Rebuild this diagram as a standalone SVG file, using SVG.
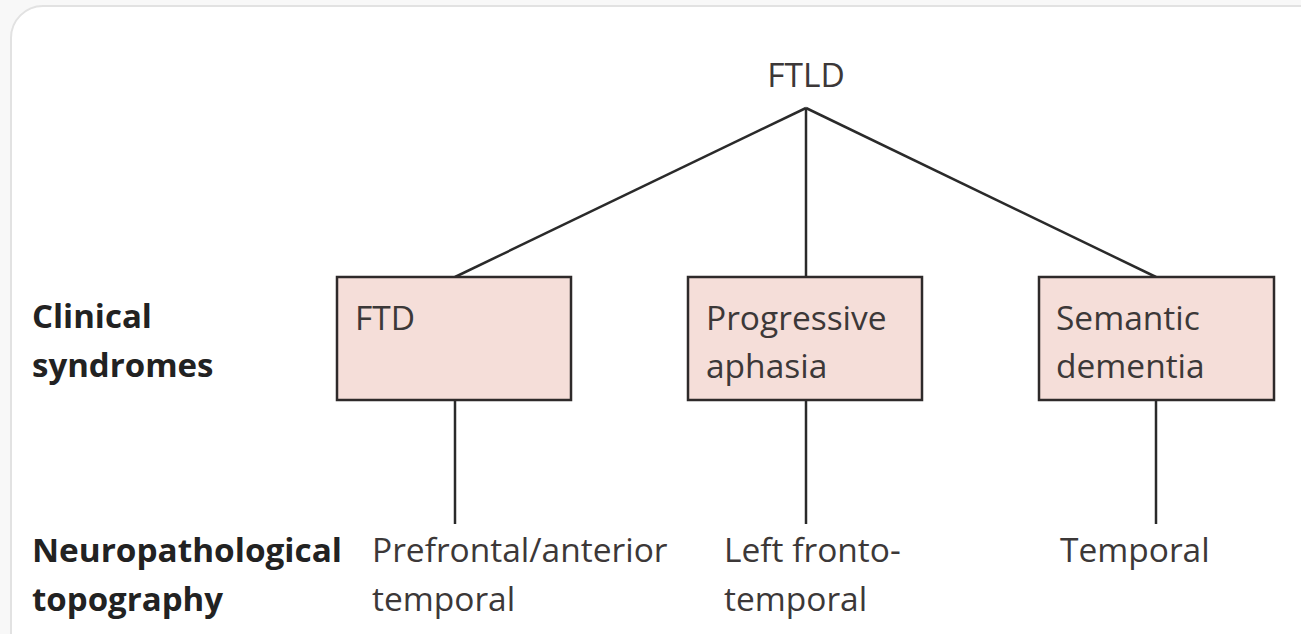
<svg xmlns="http://www.w3.org/2000/svg" width="1301" height="634" viewBox="0 0 1301 634">
<style>
.t{font-family:"Open Sans","Noto Sans",sans-serif;font-size:33.5px;fill:#3c3838}
.h{font-family:"Open Sans","Noto Sans",sans-serif;font-size:33px;font-weight:bold;fill:#222}
.box{fill:#f5ded9;stroke:#2e2a2a;stroke-width:2.5}
.ln{stroke:#2a2a2a;stroke-width:2.5;fill:none}
</style>
<rect x="0" y="0" width="1301" height="634" fill="#f8f8f8"/>
<rect x="11" y="6" width="1320" height="680" rx="32" fill="#ffffff" stroke="#e2e2e2" stroke-width="2"/>
<g id="connectors">
<line class="ln" x1="806" y1="108" x2="455" y2="277"/>
<line class="ln" x1="806" y1="108" x2="806" y2="277"/>
<line class="ln" x1="806" y1="108" x2="1156" y2="277"/>
<line class="ln" x1="455" y1="400" x2="455" y2="524"/>
<line class="ln" x1="806" y1="400" x2="806" y2="524"/>
<line class="ln" x1="1156" y1="400" x2="1156" y2="524"/>
</g>
<g id="ftld"><text class="t" x="806" y="87" text-anchor="middle">FTLD</text></g>
<g id="row-labels">
<text class="h" x="32" y="328">Clinical</text>
<text class="h" x="32" y="377">syndromes</text>
<text class="h" x="32" y="562" textLength="310" lengthAdjust="spacingAndGlyphs">Neuropathological</text>
<text class="h" x="32" y="611">topography</text>
</g>
<g id="ftd"><rect class="box" x="337" y="277" width="234" height="123"/><text class="t" x="355" y="330">FTD</text></g>
<g id="pa"><rect class="box" x="688" y="277" width="234" height="123"/><text class="t" x="706" y="330">Progressive</text><text class="t" x="706" y="378">aphasia</text></g>
<g id="sd"><rect class="box" x="1039" y="277" width="235" height="123"/><text class="t" x="1056" y="330">Semantic</text><text class="t" x="1056" y="378">dementia</text></g>
<g id="topo1"><text class="t" x="372" y="562">Prefrontal/anterior</text><text class="t" x="372" y="611">temporal</text></g>
<g id="topo2"><text class="t" x="724" y="562">Left fronto-</text><text class="t" x="724" y="611">temporal</text></g>
<g id="topo3"><text class="t" x="1060" y="562">Temporal</text></g>
</svg>
